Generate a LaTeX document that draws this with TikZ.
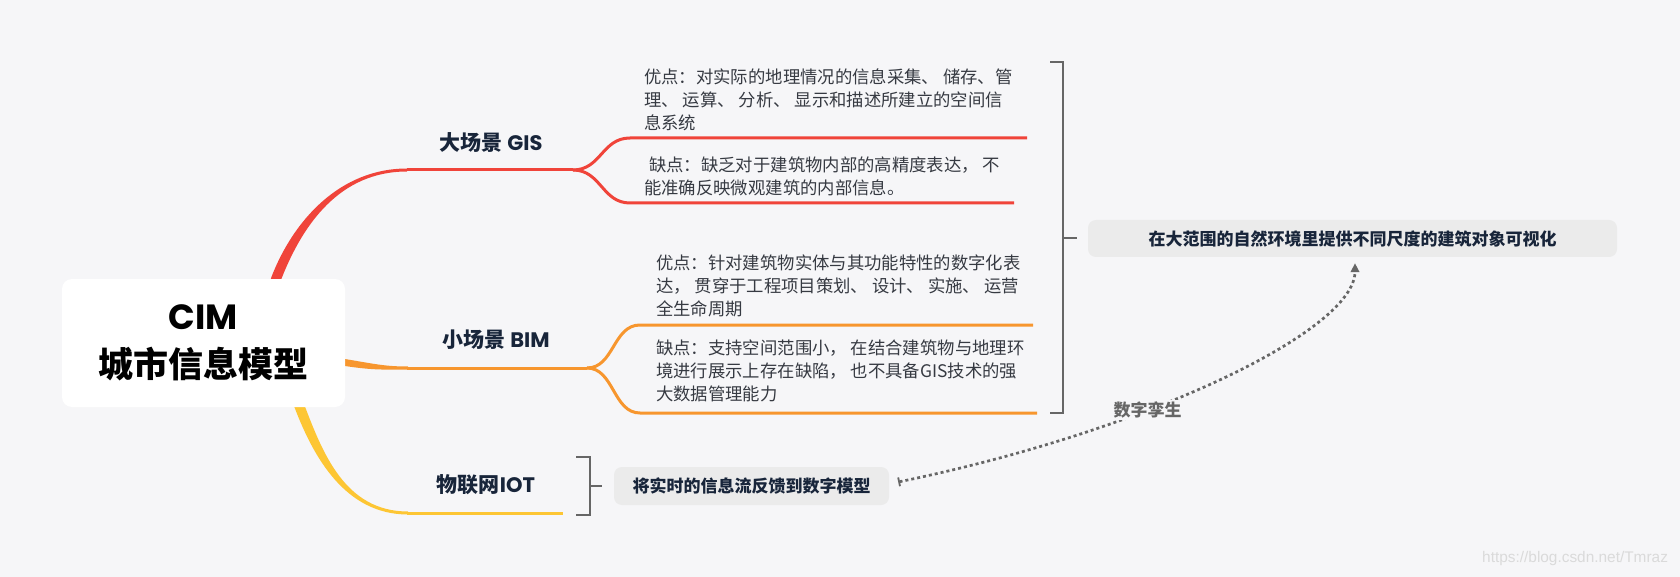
\documentclass[tikz,border=0pt]{standalone}
\usepackage{fontspec}
\setmainfont{Noto Sans CJK SC}
\newfontfamily\pop{Poppins}
\newfontfamily\wm{Liberation Sans}
\usetikzlibrary{arrows.meta,calc}
\definecolor{bg}{HTML}{F6F6F8}
\definecolor{rbr}{HTML}{F0443A}
\definecolor{obr}{HTML}{F7962E}
\definecolor{ybr}{HTML}{FDC634}
\definecolor{navy}{HTML}{18253A}
\definecolor{txt}{HTML}{363A42}
\definecolor{boxg}{HTML}{EBEBEB}
\definecolor{brkc}{HTML}{666666}
\definecolor{wmc}{HTML}{DADADA}
\begin{document}
\begin{tikzpicture}[x=1pt,y=-1pt,
  sub/.style={font=\fontsize{17.35}{23}\selectfont, text=txt, align=left, anchor=north west, inner sep=0pt},
  blabel/.style={font=\fontsize{21}{25}\selectfont\bfseries, text=navy, inner sep=0pt},
  graybox/.style={fill=boxg, rounded corners=8pt, font=\fontsize{17}{20}\selectfont\bfseries, text=navy, inner sep=0pt},
  brk/.style={draw=brkc, line width=2.5pt},
  rline/.style={draw=rbr, line width=3pt},
  oline/.style={draw=obr, line width=3pt},
  yline/.style={draw=ybr, line width=3pt}]
\fill[bg] (0,0) rectangle (1680,577);
\useasboundingbox (0,0) rectangle (1680,577);

% tapered main branches
\fill[rbr] (265,300) -- (271.35,277.2) .. controls (293.35,220.2) and (340,168.5) .. (407,168.5)
  -- (407,171.5) .. controls (340,171.5) and (302.65,223.8) .. (280.65,280.8) -- (274,302) -- cycle;
\fill[ybr] (290,388) -- (294.3,406.8) .. controls (313.3,456.8) and (345,514.5) .. (408,514.5)
  -- (408,511.5) .. controls (345,511.5) and (322.7,453.2) .. (303.7,403.2) -- (300,385) -- cycle;
\fill[obr] (330,358.5) -- (345,359) .. controls (375,364) and (385,366.5) .. (408,366.5)
  -- (408,369.5) .. controls (385,369.5) and (375,370.5) .. (345,366) -- (330,366) -- cycle;

% central node
\node[fill=white, rounded corners=10pt, minimum width=283pt, minimum height=128pt, inner sep=0pt,
  align=center, font=\fontsize{35}{48}\selectfont\bfseries, text=black] (cim) at (203.5,343)
  {{\pop CIM}\\城市信息模型};

% branch coordinates
\coordinate (gisA) at (407,170); \coordinate (gisS) at (573,170);
\coordinate (gisU) at (630,138); \coordinate (gisUe) at (1027,138);
\coordinate (gisL) at (630,203); \coordinate (gisLe) at (1014,203);
\coordinate (bimA) at (407,368); \coordinate (bimS) at (587,368);
\coordinate (bimU) at (640,325); \coordinate (bimUe) at (1033,325);
\coordinate (bimL) at (640,413); \coordinate (bimLe) at (1037,413);
\coordinate (iotA) at (407,513); \coordinate (iotE) at (563,513);

\draw[rline] (gisA) -- (gisS);
\draw[rline] (gisS) .. controls (601,170) and (602,138) .. (gisU) -- (gisUe);
\draw[rline] (gisS) .. controls (601,170) and (602,203) .. (gisL) -- (gisLe);
\draw[oline] (bimA) -- (bimS);
\draw[oline] (bimS) .. controls (614,368) and (613,325) .. (bimU) -- (bimUe);
\draw[oline] (bimS) .. controls (614,368) and (613,413) .. (bimL) -- (bimLe);
\draw[yline] (iotA) -- (iotE);

% branch labels
\node[blabel] (gis) at (491,143) {大场景 {\pop GIS}};
\node[blabel] (bim) at (496,340) {小场景 {\pop BIM}};
\node[blabel] (iot) at (486,485) {物联网{\pop IOT}};

% sub texts
\node[sub] (gispro) at (644,68.5) {优点：对实际的地理情况的信息采集、 储存、管\\理、 运算、 分析、 显示和描述所建立的空间信\\息系统};
\node[sub] (giscon) at (644,156.5) {\hspace*{5pt}缺点：缺乏对于建筑物内部的高精度表达， 不\\能准确反映微观建筑的内部信息。};
\node[sub] (bimpro) at (656,254.5) {优点：针对建筑物实体与其功能特性的数字化表\\达， 贯穿于工程项目策划、 设计、 实施、 运营\\全生命周期};
\node[sub] (bimcon) at (656,339.5) {缺点：支持空间范围小， 在结合建筑物与地理环\\境进行展示上存在缺陷， 也不具备GIS技术的强\\大数据管理能力};

% brackets
\coordinate (bt1) at (1050,62); \coordinate (bt2) at (1063,62);
\coordinate (bb1) at (1050,413); \coordinate (bb2) at (1063,413);
\coordinate (bm1) at (1063,238); \coordinate (bm2) at (1077,238);
\draw[brk] (bt1) -- (bt2) -- (bb2) -- (bb1);
\draw[brk] (bm1) -- (bm2);
\coordinate (it1) at (576,457); \coordinate (it2) at (590,457);
\coordinate (ib1) at (576,515); \coordinate (ib2) at (590,515);
\coordinate (im1) at (590,486); \coordinate (im2) at (602,486);
\draw[brk] (it1) -- (it2) -- (ib2) -- (ib1);
\draw[brk] (im1) -- (im2);

% gray boxes
\node[graybox, minimum width=529pt, minimum height=37pt] (vis) at (1352.5,238.5) {在大范围的自然环境里提供不同尺度的建筑对象可视化};
\node[graybox, minimum width=275pt, minimum height=38pt] (feed) at (751.5,486) {将实时的信息流反馈到数字模型};

% dotted connector
\draw[brkc, line width=2.7pt, dash pattern=on 3pt off 3pt,
  {Bar[width=9pt,line width=1.8pt]}-{Triangle[length=9pt,width=8.5pt]}]
  ($(feed.east)+(9,-4)$) .. controls +(252,-52) and +(0,67) .. ($(vis.south)+(2.5,6)$)
  node[pos=0.365, fill=bg, inner sep=2pt, text=brkc, font=\fontsize{17}{20}\selectfont\bfseries] (twin) {数字孪生};

% watermark
\node[anchor=west, inner sep=0pt, text=wmc, font=\wm\fontsize{15.4}{17}\selectfont] (wmk) at (1482,559) {https://blog.csdn.net/Tmraz};
\end{tikzpicture}
\end{document}
